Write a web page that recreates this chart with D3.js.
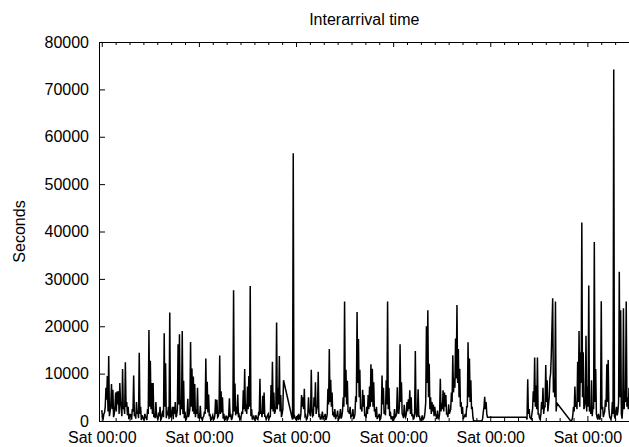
<!DOCTYPE html>
<html>
<head>
<meta charset="utf-8">
<script src="https://cdn.jsdelivr.net/npm/d3@7"></script>
<style>
  html, body { margin: 0; padding: 0; background: #fff; }
  svg text { font-family: "Liberation Sans", Arial, Helvetica, sans-serif; fill: #000; }
</style>
</head>
<body>
<svg id="chart" width="629" height="447"></svg>
<script>
// ---- DATA (seconds) ----
// weekN: readings every 0.1 day from each Saturday 00:00
// baseN: readings taken 0.05 day after each weekN reading
const title = "Interarrival time";
const yLabel = "Seconds";
const yTicks = [0, 10000, 20000, 30000, 40000, 50000, 60000, 70000, 80000];
const firstSaturday = "2004-01-03T00:00:00Z";
const stepDays = 0.1;

const week1 = [2300,500,1800,7000,9500,13700,2000,7800,6600,1500,
  6000,6200,6300,8000,2500,11000,3000,12400,4000,3000,
  800,1000,2500,9600,1500,4000,2000,14400,3000,1200,
  400,1500,600,2500,19200,12700,8000,8000,1500,4000,
  700,1800,3000,500,2200,18500,12200,2000,3000,22900,
  800,3000,3000,4000,1200,16200,18300,4500,19000,8500,
  2000,500,4700,1500,16700,11100,9400,7800,2500,7000];
const base1 = [800,1500,3000,4500,2000,1000,3500,2500,800,3000,
  2000,3500,1500,4000,1000,2500,1500,3000,1200,400,
  1500,300,2000,1000,500,1500,600,1500,200,800,
  300,1000,200,1500,3000,2500,1500,800,600,1200,
  300,1000,200,1500,800,3000,600,1200,400,1000,
  2000,400,1500,800,2500,3500,1200,2500,1500,600,
  200,1200,800,2500,3000,2000,1500,800,1500,600];

const week2 = [1500,3200,600,800,2000,13200,8300,5600,1500,300,
  1200,400,4600,4500,1000,13800,6300,5000,1500,300,
  1000,500,4800,1500,600,27600,7900,3000,5600,1200,
  500,2000,6500,11000,3500,7300,9500,28500,2500,800,
  300,1200,400,1500,8900,2000,5300,6000,1000,600,
  1500,800,7600,12500,6000,2000,20800,7000,13700,5500,
  1500,8600,null,null,null,null,null,900,56500,1000];
const base2 = [400,800,200,1000,1500,2500,1800,1000,200,800,
  300,1200,1500,800,2000,1500,1800,500,200,1000,
  300,1200,800,200,1500,2000,1200,1500,800,300,
  1000,1500,2500,2000,1500,2500,3000,1000,300,1000,
  200,800,300,1200,1500,800,1500,1000,300,1200,
  500,1000,2500,2000,1500,3000,2500,3500,2000,800,
  2500,null,null,null,null,null,null,300,800,500];

const week3 = [300,1000,1500,400,5500,5000,6800,1200,500,5000,
  1500,10800,1000,5000,8200,2500,10400,1500,400,2000,
  800,1500,600,6800,15200,8700,6000,1500,2500,1000,
  2200,500,2500,1000,5000,25200,10800,8500,2000,3000,
  1000,2500,800,5200,23000,17300,10800,3000,6600,5500,
  1500,3000,5500,7300,12000,11000,8200,2500,3000,800,
  1500,500,9600,7000,2000,8600,25200,7000,2000,1000];
const base3 = [800,200,600,1500,3000,2500,1000,300,1200,2000,
  1000,2500,1200,3000,1500,3000,800,400,1000,300,
  1000,200,1500,3500,4000,3000,1200,800,400,1200,
  300,1000,500,2000,3000,5000,3500,2000,1500,800,
  1200,400,1500,4000,8000,5000,2500,2000,3000,1000,
  600,1500,2500,3000,4000,3000,2000,800,400,1000,
  300,1500,3500,1500,1200,3500,2500,1000,400,300];

const week4 = [700,2500,1000,7100,1500,16200,8200,1200,3400,800,
  4000,4600,6500,5000,1500,500,14800,800,6700,1000,
  300,1200,500,2000,20000,23400,12100,5000,4000,3500,
  3000,1000,2200,500,8900,3800,6500,6000,5500,1500,
  3500,2000,6000,13900,9000,17400,24500,15200,11000,4000,
  3000,800,1500,3000,16600,13200,8600,3000,0,0,
  0,0,0,0,0,2000,5100,4000,800,null];
const base4 = [500,800,1500,2000,3000,4000,1500,600,1200,1500,
  2000,2500,1500,1000,400,1500,2000,1500,1000,200,
  500,300,800,4000,8000,5000,2500,1500,2000,1000,
  1500,400,800,1500,2000,2500,2000,3000,1500,800,
  1500,2500,4000,6000,7000,9000,8000,5000,3000,1500,
  400,1000,800,3000,5000,4000,2500,800,0,0,
  0,0,0,0,500,3000,2500,1500,null,null];

const week5 = [null,null,null,null,null,null,null,null,null,null,
  null,null,null,null,null,null,null,null,null,null,
  null,null,null,null,null,null,800,8800,2500,600,
  1500,6300,13400,7500,13400,1500,300,4000,7000,3000,
  11800,8600,3500,9000,14000,25900,9000,25200,3800,null,
  null,null,null,null,null,null,null,null,0,300,
  3000,7300,4000,12500,19000,14500,41900,14500,3000,18000];
const base5 = [null,null,null,null,null,null,null,null,null,null,
  null,null,null,null,null,null,null,null,null,null,
  null,null,null,null,null,null,300,1500,800,400,
  2500,4000,3000,2500,1500,600,1500,2500,1500,3000,
  4000,2000,5000,10000,20000,6000,5000,2000,null,null,
  null,null,null,null,null,null,null,null,100,1200,
  2000,3000,2500,4000,3000,8000,5000,2500,4000,2000];

const week6 = [7300,28600,3000,8600,3000,37800,11000,800,1500,300,
  25300,3000,1500,4500,12000,12900,1000,300,4000,74200,
  500,3000,2000,31500,23400,500,23800,6300,25200,5000,7000];
const base6 = [3000,2000,1500,1000,2500,4000,1500,300,800,1200,
  2500,800,2000,3000,4000,2500,600,1200,1500,1000,
  2000,1200,4000,5000,1500,3000,2500,4000,3000,2500];

const weeks = [[week1, base1], [week2, base2], [week3, base3],
               [week4, base4], [week5, base5], [week6, base6]];

(function draw() {
  const day0 = new Date(firstSaturday);
  const DAY = 86400000;
  const points = [];
  weeks.forEach(([vals, mids], w) => {
    vals.forEach((v, i) => {
      const t0 = w * 7 + i * stepDays;
      if (v !== null) points.push({ t: new Date(day0.getTime() + t0 * DAY), v });
      const m = mids[i];
      if (m !== undefined && m !== null)
        points.push({ t: new Date(day0.getTime() + (t0 + stepDays / 2) * DAY), v: m });
    });
  });

  const svg = d3.select("#chart");
  const pL = 99, pR = 629.5, pT = 42, pB = 421;

  const x = d3.scaleUtc()
    .domain([new Date(day0.getTime() - 0.2 * DAY), new Date(day0.getTime() + 38.0 * DAY)])
    .range([pL, pR - 0.5]);
  const y = d3.scaleLinear().domain([0, 80000]).range([pB, pT]);

  const majorTicks = x.ticks(d3.utcSaturday.every(1));
  const minorTicks = x.ticks(d3.utcDay.every(1)).filter(d => d.getUTCDay() !== 6);
  const fmt = d3.utcFormat("%a %H:%M");

  svg.append("clipPath").attr("id", "plotclip")
    .append("rect").attr("x", pL).attr("y", pT).attr("width", pR - pL).attr("height", pB - pT + 1);

  const line = d3.line().x(d => x(d.t)).y(d => y(d.v));
  svg.append("path")
    .datum(points)
    .attr("clip-path", "url(#plotclip)")
    .attr("fill", "none")
    .attr("stroke", "#000")
    .attr("stroke-width", 1.5)
    .attr("d", line);

  svg.append("g").attr("transform", `translate(${pL},0)`)
    .call(d3.axisLeft(y).tickValues(yTicks).tickFormat(d3.format("d"))
      .tickSizeInner(-6).tickSizeOuter(0).tickPadding(10));

  svg.append("g").attr("transform", `translate(0,${pT})`)
    .call(d3.axisTop(x).tickValues(majorTicks).tickFormat("")
      .tickSizeInner(-5).tickSizeOuter(0));
  svg.append("g").attr("transform", `translate(0,${pT})`)
    .call(d3.axisTop(x).tickValues(minorTicks).tickFormat("")
      .tickSizeInner(-3).tickSizeOuter(0))
    .select(".domain").remove();

  svg.append("g").attr("transform", `translate(0,${pB})`)
    .call(d3.axisBottom(x).tickValues(majorTicks).tickFormat(fmt)
      .tickSizeInner(-5).tickSizeOuter(0).tickPadding(11));
  svg.append("g").attr("transform", `translate(0,${pB})`)
    .call(d3.axisBottom(x).tickValues(minorTicks).tickFormat("")
      .tickSizeInner(-3).tickSizeOuter(0))
    .select(".domain").remove();

  svg.selectAll(".domain").attr("stroke", "#000").attr("stroke-width", 1);
  svg.selectAll(".tick line").attr("stroke", "#000");
  svg.selectAll(".tick text")
    .style("font-size", "16px")
    .style("font-family", "'Liberation Sans', Arial, Helvetica, sans-serif")
    .attr("fill", "#000");

  svg.append("text")
    .attr("x", (pL + pR) / 2)
    .attr("y", 25)
    .attr("text-anchor", "middle")
    .style("font-size", "16px")
    .text(title);

  svg.append("text")
    .attr("transform", `translate(25,${(pT + pB) / 2}) rotate(-90)`)
    .attr("text-anchor", "middle")
    .style("font-size", "16px")
    .text(yLabel);
})();
</script>
</body>
</html>
